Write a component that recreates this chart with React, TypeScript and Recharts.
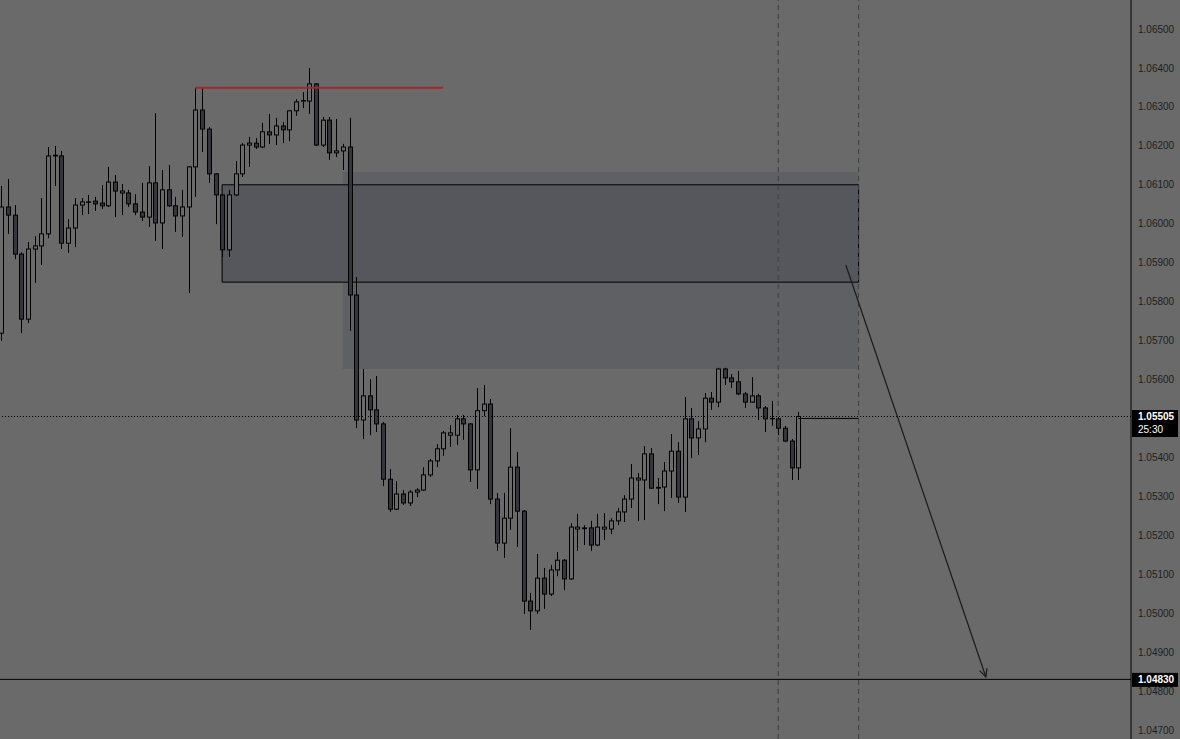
import React from 'react';
import { ComposedChart, Bar, XAxis, YAxis, ReferenceLine, ReferenceArea } from 'recharts';

const opens = [
  1.05719, 1.06043, 1.06022, 1.05922, 1.05755, 1.05935, 1.05943, 1.05974, 1.06174, 1.06174,
  1.05950, 1.05989, 1.06048, 1.06056, 1.06058, 1.06053, 1.06046, 1.06107, 1.06079, 1.06079,
  1.06051, 1.06030, 1.06017, 1.06105, 1.06002, 1.06087, 1.06046, 1.06020, 1.06043, 1.06146,
  1.06292, 1.06243, 1.06128, 1.06074, 1.05933, 1.06074, 1.06128, 1.06202, 1.06207, 1.06197,
  1.06236, 1.06228, 1.06251, 1.06241, 1.06290, 1.06315, 1.06315, 1.06359, 1.06202, 1.06266,
  1.06182, 1.06187, 1.06197, 1.05817, 1.05496, 1.05558, 1.05522, 1.05486, 1.05344, 1.05267,
  1.05306, 1.05283, 1.05311, 1.05316, 1.05355, 1.05391, 1.05422, 1.05457, 1.05457, 1.05499,
  1.05486, 1.05368, 1.05520, 1.05537, 1.05293, 1.05180, 1.05244, 1.05375, 1.05262, 1.05031,
  1.05006, 1.05090, 1.05049, 1.05111, 1.05136, 1.05088, 1.05216, 1.05217, 1.05219, 1.05175,
  1.05216, 1.05216, 1.05237, 1.05260, 1.05293, 1.05342, 1.05342, 1.05409, 1.05321, 1.05324,
  1.05365, 1.05416, 1.05298, 1.05499, 1.05450, 1.05473, 1.05552, 1.05542, 1.05627, 1.05604,
  1.05594, 1.05563, 1.05542, 1.05558, 1.05527, 1.05499, 1.05499, 1.05475, 1.05442, 1.05373,
];

const highs = [
  1.06097, 1.06115, 1.06048, 1.05927, 1.05953, 1.05968, 1.06066, 1.06197, 1.06200, 1.06187,
  1.06012, 1.06066, 1.06066, 1.06074, 1.06069, 1.06099, 1.06146, 1.06125, 1.06102, 1.06087,
  1.06076, 1.06105, 1.06148, 1.06284, 1.06138, 1.06151, 1.06069, 1.06087, 1.06148, 1.06349,
  1.06349, 1.06248, 1.06130, 1.06076, 1.06087, 1.06161, 1.06207, 1.06223, 1.06220, 1.06259,
  1.06282, 1.06272, 1.06261, 1.06292, 1.06320, 1.06338, 1.06400, 1.06361, 1.06274, 1.06274,
  1.06269, 1.06205, 1.06272, 1.05863, 1.05627, 1.05601, 1.05609, 1.05491, 1.05370, 1.05339,
  1.05316, 1.05316, 1.05321, 1.05375, 1.05396, 1.05434, 1.05468, 1.05483, 1.05509, 1.05509,
  1.05488, 1.05578, 1.05586, 1.05550, 1.05309, 1.05309, 1.05475, 1.05414, 1.05265, 1.05052,
  1.05152, 1.05116, 1.05124, 1.05157, 1.05139, 1.05231, 1.05255, 1.05226, 1.05237, 1.05255,
  1.05257, 1.05244, 1.05270, 1.05303, 1.05383, 1.05360, 1.05429, 1.05424, 1.05347, 1.05388,
  1.05460, 1.05439, 1.05555, 1.05527, 1.05493, 1.05565, 1.05568, 1.05630, 1.05630, 1.05614,
  1.05622, 1.05568, 1.05606, 1.05563, 1.05532, 1.05545, 1.05504, 1.05481, 1.05447, 1.05517,
];

const lows = [
  1.05699, 1.05974, 1.05909, 1.05719, 1.05745, 1.05848, 1.05894, 1.05963, 1.06097, 1.05935,
  1.05925, 1.05940, 1.06022, 1.06025, 1.06033, 1.06038, 1.06043, 1.06017, 1.06022, 1.06043,
  1.06022, 1.06007, 1.05992, 1.05956, 1.05935, 1.06043, 1.05979, 1.05966, 1.05822, 1.06069,
  1.06184, 1.06105, 1.05999, 1.05915, 1.05915, 1.06071, 1.06120, 1.06146, 1.06192, 1.06194,
  1.06205, 1.06202, 1.06207, 1.06212, 1.06277, 1.06297, 1.06282, 1.06200, 1.06197, 1.06164,
  1.06171, 1.06138, 1.05725, 1.05475, 1.05447, 1.05457, 1.05465, 1.05326, 1.05260, 1.05265,
  1.05278, 1.05275, 1.05298, 1.05314, 1.05350, 1.05375, 1.05404, 1.05427, 1.05432, 1.05445,
  1.05337, 1.05319, 1.05506, 1.05280, 1.05160, 1.05142, 1.05214, 1.05170, 1.04998, 1.04957,
  1.04998, 1.05011, 1.05044, 1.05095, 1.05059, 1.05085, 1.05160, 1.05175, 1.05160, 1.05172,
  1.05188, 1.05203, 1.05226, 1.05234, 1.05270, 1.05237, 1.05239, 1.05319, 1.05280, 1.05262,
  1.05296, 1.05283, 1.05260, 1.05398, 1.05406, 1.05439, 1.05522, 1.05529, 1.05586, 1.05578,
  1.05560, 1.05527, 1.05540, 1.05496, 1.05465, 1.05481, 1.05457, 1.05439, 1.05342, 1.05342,
];

const closes = [
  1.06043, 1.06022, 1.05922, 1.05755, 1.05935, 1.05943, 1.05974, 1.06174, 1.06176, 1.05950,
  1.05989, 1.06048, 1.06056, 1.06055, 1.06051, 1.06046, 1.06107, 1.06084, 1.06084, 1.06051,
  1.06030, 1.06017, 1.06105, 1.06002, 1.06087, 1.06046, 1.06020, 1.06043, 1.06146, 1.06292,
  1.06243, 1.06128, 1.06074, 1.05933, 1.06074, 1.06128, 1.06202, 1.06207, 1.06197, 1.06236,
  1.06228, 1.06251, 1.06241, 1.06290, 1.06313, 1.06316, 1.06359, 1.06202, 1.06266, 1.06182,
  1.06187, 1.06197, 1.05817, 1.05496, 1.05558, 1.05522, 1.05486, 1.05344, 1.05267, 1.05306,
  1.05283, 1.05311, 1.05316, 1.05355, 1.05391, 1.05422, 1.05463, 1.05463, 1.05499, 1.05486,
  1.05368, 1.05520, 1.05537, 1.05293, 1.05180, 1.05244, 1.05375, 1.05262, 1.05031, 1.05006,
  1.05090, 1.05049, 1.05111, 1.05136, 1.05088, 1.05221, 1.05221, 1.05219, 1.05175, 1.05221,
  1.05221, 1.05237, 1.05260, 1.05293, 1.05347, 1.05347, 1.05409, 1.05321, 1.05323, 1.05365,
  1.05416, 1.05298, 1.05499, 1.05450, 1.05473, 1.05552, 1.05542, 1.05627, 1.05604, 1.05594,
  1.05563, 1.05542, 1.05558, 1.05527, 1.05499, 1.05500, 1.05475, 1.05442, 1.05373, 1.05505,
];

const priceTicks = [
  1.047, 1.048, 1.049, 1.05, 1.051, 1.052, 1.053, 1.054, 1.056, 1.057,
  1.058, 1.059, 1.06, 1.061, 1.062, 1.063, 1.064, 1.065,
];

const currentPrice = 1.05505;
const countdown = '25:30';
const targetPrice = 1.0483;
const highLevel = 1.06349;
const levelPrice = 1.055;
const zone = { x1: 51, x2: 128, y1: 1.05627, y2: 1.06133 };
const box = { x1: 33, x2: 128, y1: 1.0585, y2: 1.061 };
const sessionBreaks = [116, 128];
const arrowFrom = { x: 126.1, y: 1.05894 };
const arrowTo = { x: 147, y: 1.04836 };

const data = opens.map((o, i) => ({ i, o, h: highs[i], l: lows[i], c: closes[i] }));

const BG = '#6a6a6a';

const Candle = (props: any) => {
  const { x, y, width, height, payload } = props;
  if (!payload || x == null) return null;
  const { o, h, l, c } = payload;
  const top = Math.min(y, y + height);
  const hh = Math.abs(height);
  const k = h - l > 0 ? hh / (h - l) : 0;
  const yO = top + (h - o) * k;
  const yC = top + (h - c) * k;
  const bTop = Math.min(yO, yC);
  const bH = Math.max(Math.abs(yO - yC), 0.01);
  const cx = Math.round(x + width / 2) + 0.5;
  const up = c >= o;
  return (
    <g>
      <line x1={cx} x2={cx} y1={top} y2={top + hh} stroke="#000" strokeWidth={1} />
      <rect
        x={cx - 2}
        y={bTop}
        width={4}
        height={bH}
        fill={up ? BG : '#35363b'}
        stroke="#000"
        strokeWidth={1}
      />
    </g>
  );
};

const Arrow = (props: any) => {
  const { x1, y1, x2, y2 } = props;
  if (x1 == null) return null;
  const ang = Math.atan2(y2 - y1, x2 - x1);
  const len = 9;
  const spread = 0.45;
  const ax1 = x2 - len * Math.cos(ang - spread);
  const ay1 = y2 - len * Math.sin(ang - spread);
  const ax2 = x2 - len * Math.cos(ang + spread);
  const ay2 = y2 - len * Math.sin(ang + spread);
  return (
    <g>
      <line x1={x1} y1={y1} x2={x2} y2={y2} stroke="#1a1a1a" strokeWidth={1.2} />
      <polyline
        points={`${ax1},${ay1} ${x2},${y2} ${ax2},${ay2}`}
        fill="none"
        stroke="#1a1a1a"
        strokeWidth={1.2}
      />
    </g>
  );
};

const fmt = (v: number) => v.toFixed(5);

const CurrentLabel = (props: any) => {
  const vb = props.viewBox || {};
  const x0 = (vb.x || 0) + (vb.width || 0) + 1;
  const y0 = vb.y || 0;
  return (
    <g>
      <rect x={x0} y={y0 - 6.5} width={46} height={27} fill="#000" />
      <text x={x0 + 6} y={y0 + 3.5} fill="#fff" fontSize={10} fontWeight="bold" fontFamily="Liberation Sans, Arial, sans-serif">
        {fmt(currentPrice)}
      </text>
      <text x={x0 + 6} y={y0 + 16} fill="#fff" fontSize={10} fontFamily="Liberation Sans, Arial, sans-serif">
        {countdown}
      </text>
    </g>
  );
};

const TargetLabel = (props: any) => {
  const vb = props.viewBox || {};
  const x0 = (vb.x || 0) + (vb.width || 0) + 1;
  const y0 = vb.y || 0;
  return (
    <g>
      <rect x={x0} y={y0 - 6.5} width={46} height={14} fill="#000" />
      <text x={x0 + 6} y={y0 + 3.5} fill="#fff" fontSize={10} fontWeight="bold" fontFamily="Liberation Sans, Arial, sans-serif">
        {fmt(targetPrice)}
      </text>
    </g>
  );
};

export default function App() {
  return (
    <div style={{ position: 'fixed', left: 0, top: 0, width: 1180, height: 739, background: BG, overflow: 'hidden' }}>
      <ComposedChart width={1180} height={739} data={data} margin={{ top: 0, right: 0, bottom: 0, left: 0 }}>
        <XAxis type="number" dataKey="i" domain={[-0.149, 168.66]} allowDataOverflow hide />
        <YAxis
          orientation="right"
          width={49}
          domain={[1.046769, 1.065745]}
          allowDataOverflow
          ticks={priceTicks}
          tickFormatter={fmt}
          tickLine={false}
          tickSize={5}
          axisLine={{ stroke: '#000' }}
          tick={{ fill: '#1e1e1e', fontSize: 10, fontFamily: 'Liberation Sans, Arial, sans-serif' }}
          interval={0}
        />
        <ReferenceArea
          x1={zone.x1}
          x2={zone.x2}
          y1={zone.y1}
          y2={zone.y2}
          fill="#5f6064"
          fillOpacity={1}
          stroke="none"
          zIndex={10}
        />
        <ReferenceArea
          x1={box.x1}
          x2={box.x2}
          y1={box.y1}
          y2={box.y2}
          fill="#56575c"
          fillOpacity={1}
          stroke="#000"
          strokeWidth={1}
          zIndex={20}
        />
        {sessionBreaks.map((b) => (
          <ReferenceLine key={b} x={b} stroke="#3e3e3e" strokeDasharray="5 4" zIndex={30} />
        ))}
        <Bar
          dataKey={(d: any) => [d.l, d.h]}
          barSize={5}
          shape={<Candle />}
          isAnimationActive={false}
          zIndex={300}
        />
        <ReferenceLine
          segment={[{ x: 29, y: highLevel }, { x: 66, y: highLevel }]}
          stroke="#a8242e"
          strokeWidth={2}
          zIndex={600}
        />
        <ReferenceLine y={targetPrice} stroke="#000" strokeWidth={1} label={TargetLabel} zIndex={600} />
        <ReferenceLine y={currentPrice} stroke="#000" strokeDasharray="1 2" label={CurrentLabel} zIndex={600} />
        <ReferenceLine
          segment={[{ x: 119, y: levelPrice }, { x: 128, y: levelPrice }]}
          stroke="#000"
          strokeWidth={1}
          zIndex={600}
        />
        <ReferenceLine
          segment={[arrowFrom, arrowTo]}
          shape={Arrow}
          stroke="#1a1a1a"
          zIndex={600}
        />
      </ComposedChart>
    </div>
  );
}
